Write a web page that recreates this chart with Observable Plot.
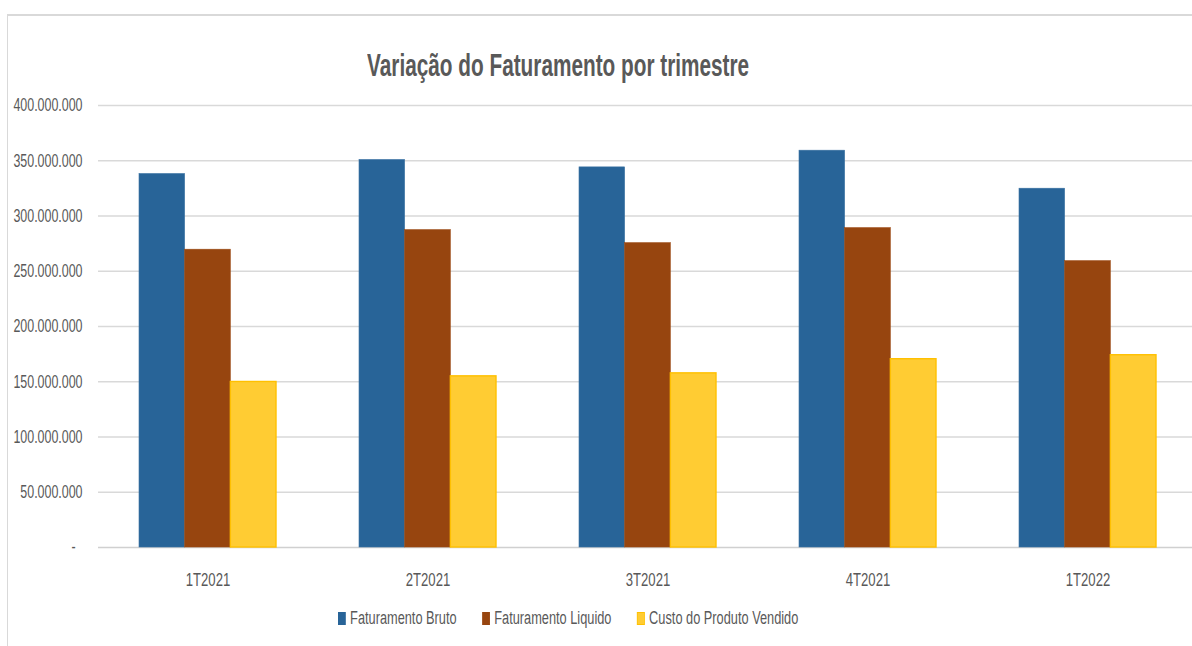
<!DOCTYPE html>
<html>
<head>
<meta charset="utf-8">
<script src="https://cdn.jsdelivr.net/npm/d3@7"></script>
<script src="https://cdn.jsdelivr.net/npm/@observablehq/plot@0.6"></script>
<style>
  html, body { margin: 0; padding: 0; background: #fff; }
  body { width: 1192px; height: 646px; position: relative; overflow: hidden;
         font-family: 'Liberation Sans', Arial, sans-serif; }
  #frame { position: absolute; left: 7px; top: 14px; width: 1300px; height: 700px;
           border-left: 1.5px solid #d9d9d9; border-top: 2px solid #d9d9d9; }
  #title { position: absolute; left: 0; top: 50px; width: 1117px; text-align: center;
           font-size: 31px; line-height: 31px; font-weight: bold; color: #595959; white-space: nowrap; }
  #title span { display: inline-block; transform: scaleX(0.67); transform-origin: center; }
  #chart { position: absolute; left: 0; top: 0; }
  #legend { position: absolute; left: 338px; top: 609px; display: flex; align-items: center;
            font-size: 18px; line-height: 18px; color: #595959; white-space: nowrap;
            transform: scaleX(0.71); transform-origin: left center; }
  .item { display: flex; align-items: center; margin-right: 36px; }
  .sw { width: 11px; height: 13px; margin-right: 6px; box-sizing: border-box; }
</style>
</head>
<body>
<div id="frame"></div>
<div id="chart"></div>
<div id="title"><span>Variação do Faturamento por trimestre</span></div>
<div id="legend"></div>
<script>
// ---- data ----
const quarters = ["1T2021", "2T2021", "3T2021", "4T2021", "1T2022"];
const seriesNames = ["Faturamento Bruto", "Faturamento Liquido", "Custo do Produto Vendido"];
const faturamentoBruto = [338.0e6, 350.7e6, 344.0e6, 359.1e6, 324.7e6];
const faturamentoLiquido = [269.5e6, 287.2e6, 275.4e6, 289.0e6, 259.1e6];
const custoProdutoVendido = [149.8e6, 154.9e6, 157.6e6, 170.4e6, 174.0e6];
const yTicks = [0, 50e6, 100e6, 150e6, 200e6, 250e6, 300e6, 350e6, 400e6];
const seriesColors = ["#286498", "#97450f", "#ffcc33"];
const seriesStrokes = ["#3a72a3", "#9c4a14", "#ffc000"];

// ---- table ----
const seriesValues = [faturamentoBruto, faturamentoLiquido, custoProdutoVendido];
const rows = [];
seriesNames.forEach((s, si) => quarters.forEach((q, qi) => rows.push({quarter: q, series: s, si, value: seriesValues[si][qi]})));

const ptBR = d3.formatLocale({decimal: ",", thousands: ".", grouping: [3], currency: ["R$", ""]});
const fmt = ptBR.format(",d");

const bandwidth = 220 * (1 - 0.377);
const third = bandwidth / 3;

const barMarks = seriesNames.map((s, si) => Plot.barY(rows.filter(r => r.si === si), {
  x: "quarter",
  y: "value",
  fill: seriesColors[si],
  stroke: seriesStrokes[si],
  strokeWidth: si === 2 ? 1.4 : 0.6,
  insetLeft: si * third,
  insetRight: (2 - si) * third
}));

const chart = Plot.plot({
  width: 1192,
  height: 600,
  marginTop: 105,
  marginBottom: 53,
  marginLeft: 98,
  marginRight: 0,
  style: {
    fontFamily: "'Liberation Sans', Arial, sans-serif",
    fontSize: "18px",
    color: "#595959",
    background: "transparent"
  },
  x: {
    domain: quarters,
    range: [98, 1198],
    paddingInner: 0.377,
    paddingOuter: 0.1885,
    tickSize: 0,
    tickPadding: 25,
    label: null
  },
  y: {
    domain: [0, 400e6],
    ticks: yTicks,
    tickSize: 0,
    tickPadding: 16,
    tickFormat: d => d === 0 ? "-\u00a0\u00a0" : fmt(d),
    label: null
  },
  marks: [
    Plot.ruleY(yTicks.filter(d => d > 0), {stroke: "#d9d9d9", strokeWidth: 1.5}),
    Plot.ruleY([0], {stroke: "#d0d0d0", strokeWidth: 1.5}),
    ...barMarks
  ]
});
document.getElementById("chart").appendChild(chart);

// condensed look of the original: squeeze each axis label horizontally
const K = 0.69;
chart.querySelectorAll("text").forEach(t => {
  if (quarters.includes(t.textContent)) t.setAttribute("font-size", "19");
  const w = t.getComputedTextLength();
  if (w > 0) {
    t.setAttribute("textLength", (w * K).toFixed(2));
    t.setAttribute("lengthAdjust", "spacingAndGlyphs");
  }
});

// ---- legend ----
const legend = document.getElementById("legend");
seriesNames.forEach((s, i) => {
  const item = document.createElement("div");
  item.className = "item";
  const sw = document.createElement("div");
  sw.className = "sw";
  sw.style.background = seriesColors[i];
  if (i === 2) sw.style.border = "1px solid #ffc000";
  const label = document.createElement("span");
  label.textContent = s;
  item.appendChild(sw);
  item.appendChild(label);
  legend.appendChild(item);
});
</script>
</body>
</html>
